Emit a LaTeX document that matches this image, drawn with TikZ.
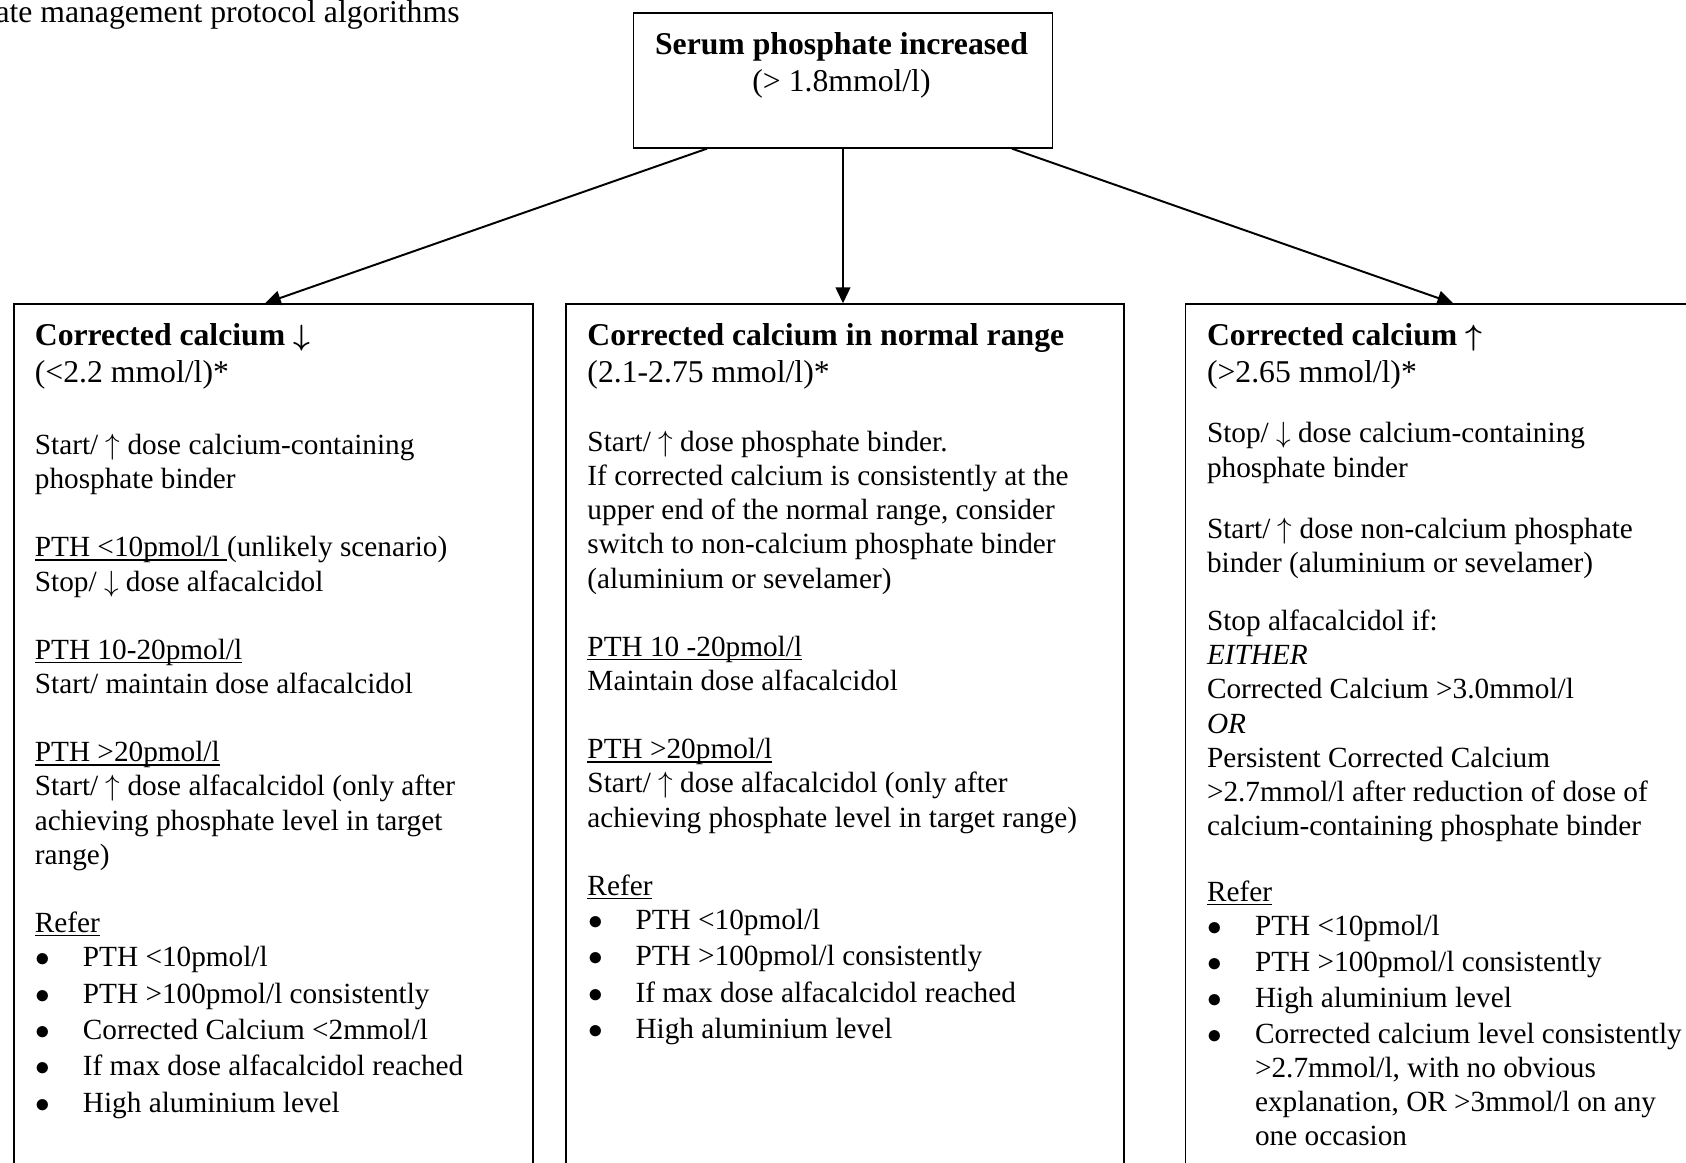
\documentclass[tikz,border=0pt]{standalone}
\usepackage{fontspec}
\setmainfont{Liberation Serif}
\usetikzlibrary{arrows.meta,calc}
\newlength\pxu
\setlength\pxu{0.41pt}
\newsavebox\undlbox
\newcommand{\undl}[1]{\sbox\undlbox{#1}\rlap{\rule[-1.6pt]{\wd\undlbox}{0.6pt}}\usebox\undlbox}
\newcommand{\bul}{\makebox[19.7pt][l]{\hspace{0.3pt}$\bullet$}}
\newcommand{\bulgap}{\hspace*{19.7pt}}
\newcommand{\arup}{$\uparrow$}
\newcommand{\ardn}{$\downarrow$}

\begin{document}
\begin{tikzpicture}[x=\pxu, y=-\pxu,
  boxline/.style={draw, line width=0.8pt, inner sep=0pt, anchor=north west},
  headtxt/.style={font=\fontsize{13}{15}\selectfont, align=left, inner sep=0pt, anchor=north west},
  bodytxt/.style={font=\fontsize{12}{14}\selectfont, align=left, inner sep=0pt, anchor=north west},
  arr/.style={line width=0.8pt, -{Triangle[length=6.5pt,width=6pt]}}]
  \useasboundingbox (0,0) rectangle (1686,1163);
  \clip (0,0) rectangle (1686,1163);

  % caption (cut off on the left)
  \node[anchor=base east, inner sep=0pt, font=\fontsize{13}{15}\selectfont] (title) at (460,23) {ate management protocol algorithms};

  % Serum phosphate
  \node[boxline, minimum width=419\pxu, minimum height=134.7\pxu] (topbox) at (632.5,12) {};
  \node[headtxt, align=center, anchor=north] (toptext) at (841.5,28.4) {%
    \strut\textbf{Serum phosphate increased}\\
    (> 1.8mmol/l)};

  % calcium low
  \node[boxline, minimum width=519\pxu, minimum height=900\pxu] (lowbox) at (13,303.3) {};
  \node[headtxt] (lowhead) at (34.4,319.4) {%
    \strut\textbf{Corrected calcium {\boldmath\ardn}}\\
    (<2.2 mmol/l)*};
  \node[bodytxt] (lowbody) at (34.4,430.1) {%
    \strut Start/ \arup{} dose calcium-containing\\
    phosphate binder\\[14pt]
    \undl{PTH <10pmol/l }(unlikely scenario)\\
    Stop/ \ardn{} dose alfacalcidol\\[14pt]
    \undl{PTH 10-20pmol/l}\\
    Start/ maintain dose alfacalcidol\\[14pt]
    \undl{PTH >20pmol/l}\\
    Start/ \arup{} dose alfacalcidol (only after\\
    achieving phosphate level in target\\
    range)\\[14pt]
    \undl{Refer}\\
    \bul PTH <10pmol/l\\[0.9pt]
    \bul PTH >100pmol/l consistently\\[0.9pt]
    \bul Corrected Calcium <2mmol/l\\[0.9pt]
    \bul If max dose alfacalcidol reached\\[0.9pt]
    \bul High aluminium level};

  % calcium normal
  \node[boxline, minimum width=558\pxu, minimum height=900\pxu] (normbox) at (565,303.3) {};
  \node[headtxt] (normhead) at (587,319.4) {%
    \strut\textbf{Corrected calcium in normal range}\\
    (2.1-2.75 mmol/l)*};
  \node[bodytxt] (normbody) at (587,427.1) {%
    \strut Start/ \arup{} dose phosphate binder.\\
    If corrected calcium is consistently at the\\
    upper end of the normal range, consider\\
    switch to non-calcium phosphate binder\\
    (aluminium or sevelamer)\\[14pt]
    \undl{PTH 10 -20pmol/l}\\
    Maintain dose alfacalcidol\\[14pt]
    \undl{PTH >20pmol/l}\\
    Start/ \arup{} dose alfacalcidol (only after\\
    achieving phosphate level in target range)\\[14pt]
    \undl{Refer}\\
    \bul PTH <10pmol/l\\[0.9pt]
    \bul PTH >100pmol/l consistently\\[0.9pt]
    \bul If max dose alfacalcidol reached\\[0.9pt]
    \bul High aluminium level};

  % calcium high
  \node[boxline, minimum width=535.5\pxu, minimum height=900\pxu] (highbox) at (1184.5,303.3) {};
  \node[headtxt] (highhead) at (1206.5,319.4) {%
    \strut\textbf{Corrected calcium {\boldmath\arup}}\\
    (>2.65 mmol/l)*};
  \node[bodytxt] (highbody) at (1206.5,418.5) {%
    \strut Stop/ \ardn{} dose calcium-containing\\
    phosphate binder\\[11pt]
    Start/ \arup{} dose non-calcium phosphate\\
    binder (aluminium or sevelamer)\\[10pt]
    Stop alfacalcidol if:\\
    \textit{EITHER}\\
    Corrected Calcium >3.0mmol/l\\
    \textit{OR}\\
    Persistent Corrected Calcium\\
    >2.7mmol/l after reduction of dose of\\
    calcium-containing phosphate binder\\[13pt]
    \undl{Refer}\\
    \bul PTH <10pmol/l\\[0.7pt]
    \bul PTH >100pmol/l consistently\\[0.7pt]
    \bul High aluminium level\\[0.7pt]
    \bul Corrected calcium level consistently\\
    \bulgap >2.7mmol/l, with no obvious\\
    \bulgap explanation, OR >3mmol/l on any\\
    \bulgap one occasion};

  % Arrows
  \draw[arr] ($(topbox.south)+(-136,0)$) -- ($(lowbox.north)+(-8.5,0)$);
  \draw[arr] (topbox.south) -- (topbox.south |- normbox.north);
  \draw[arr] ($(topbox.south)+(169,0)$) -- (highbox.north);
\end{tikzpicture}
\end{document}
